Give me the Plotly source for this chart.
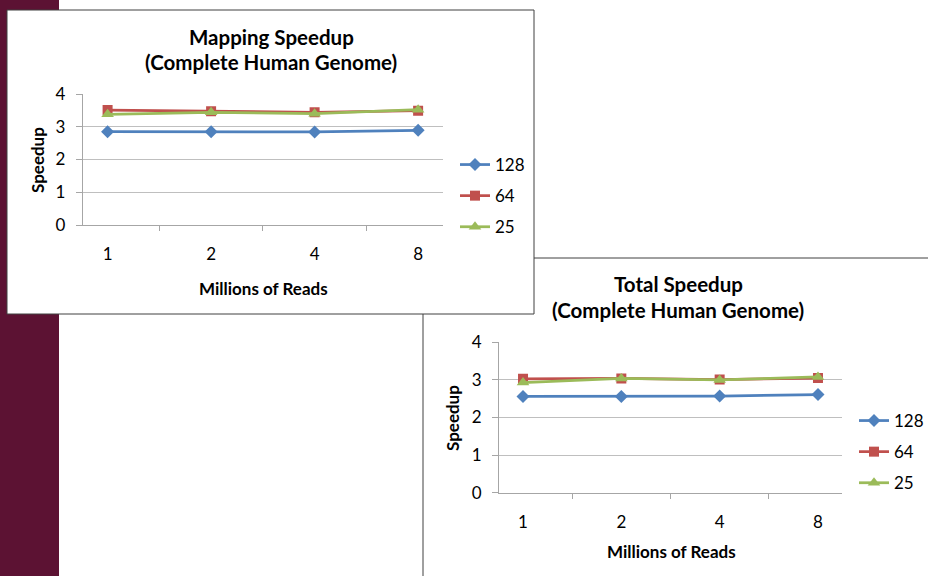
import plotly.graph_objects as go

W, H = 928, 576

reads = ["1", "2", "4", "8"]
series_names = ["128", "64", "25"]
mapping_128 = [2.85, 2.85, 2.84, 2.89]
mapping_64 = [3.51, 3.47, 3.44, 3.49]
mapping_25 = [3.38, 3.44, 3.40, 3.52]
total_128 = [2.56, 2.56, 2.57, 2.61]
total_64 = [3.03, 3.04, 3.01, 3.05]
total_25 = [2.93, 3.04, 3.00, 3.08]

colors = ["#4F81BD", "#C0504D", "#9BBB59"]
symbols = ["diamond", "square", "triangle-up"]
msizes = [10, 10, 11]

FONT = "Lato"

def px(x):
    return x / W

def py(y):
    return 1 - y / H

fig = go.Figure()

for i, (name, vals) in enumerate(zip(series_names, [mapping_128, mapping_64, mapping_25])):
    fig.add_trace(go.Scatter(
        x=reads, y=vals, name=name, mode="lines+markers",
        line=dict(color=colors[i], width=2.75),
        marker=dict(symbol=symbols[i], size=msizes[i], color=colors[i]),
        xaxis="x", yaxis="y", legend="legend", legendgroup="a" + name,
    ))
for i, (name, vals) in enumerate(zip(series_names, [total_128, total_64, total_25])):
    fig.add_trace(go.Scatter(
        x=reads, y=vals, name=name, mode="lines+markers",
        line=dict(color=colors[i], width=2.75),
        marker=dict(symbol=symbols[i], size=msizes[i], color=colors[i]),
        xaxis="x2", yaxis="y2", legend="legend2", legendgroup="b" + name,
    ))

grid = "#bfbfbf"
axl = "#a6a6a6"
tickfont = dict(family=FONT, size=17, color="#000000")

def xax(domain, anchor):
    return dict(domain=domain, anchor=anchor, type="category", categoryorder="array",
                categoryarray=reads, showline=True, linecolor=axl, linewidth=1,
                ticks="outside", tickson="boundaries", ticklen=5, tickcolor=axl,
                showgrid=False, zeroline=False, tickfont=tickfont, ticklabelstandoff=14,
                fixedrange=True, automargin=False)

def yax(domain, anchor):
    return dict(domain=domain, anchor=anchor, range=[0, 4], dtick=1, showline=True,
                linecolor=axl, linewidth=1, ticks="outside", ticklen=6, tickcolor=axl,
                showgrid=True, gridcolor=grid, gridwidth=1, zeroline=False,
                tickfont=tickfont, ticklabelstandoff=7, fixedrange=True, automargin=False)

shapes = [
    # slide background strip
    dict(type="rect", xref="paper", yref="paper", x0=0, x1=px(59), y0=0, y1=1,
         fillcolor="#5c1233", line=dict(width=0), layer="below"),
    # bottom chart frame
    dict(type="rect", xref="paper", yref="paper", x0=px(423), x1=px(940), y0=py(590), y1=py(258),
         fillcolor="#ffffff", line=dict(color="#404040", width=1), layer="below"),
    # top chart frame
    dict(type="rect", xref="paper", yref="paper", x0=px(7), x1=px(534), y0=py(314), y1=py(10),
         fillcolor="#ffffff", line=dict(color="#404040", width=1), layer="below"),
]

title_font = dict(family=FONT, size=20.5, color="#000000")
axtitle_font = dict(family=FONT, size=17, color="#000000")

annotations = [
    dict(text="<b>Mapping Speedup</b>", x=px(271), y=py(37), xref="paper", yref="paper",
         showarrow=False, font=title_font, xanchor="center", yanchor="middle"),
    dict(text="<b>(Complete Human Genome)</b>", x=px(271), y=py(62), xref="paper", yref="paper",
         showarrow=False, font=title_font, xanchor="center", yanchor="middle"),
    dict(text="<b>Speedup</b>", x=px(37), y=py(160), xref="paper", yref="paper", textangle=-90,
         showarrow=False, font=axtitle_font, xanchor="center", yanchor="middle"),
    dict(text="<b>Millions of Reads</b>", x=px(263), y=py(288), xref="paper", yref="paper",
         showarrow=False, font=axtitle_font, xanchor="center", yanchor="middle"),
    dict(text="<b>Total Speedup</b>", x=px(678), y=py(284), xref="paper", yref="paper",
         showarrow=False, font=title_font, xanchor="center", yanchor="middle"),
    dict(text="<b>(Complete Human Genome)</b>", x=px(678), y=py(310), xref="paper", yref="paper",
         showarrow=False, font=title_font, xanchor="center", yanchor="middle"),
    dict(text="<b>Speedup</b>", x=px(452), y=py(418), xref="paper", yref="paper", textangle=-90,
         showarrow=False, font=axtitle_font, xanchor="center", yanchor="middle"),
    dict(text="<b>Millions of Reads</b>", x=px(671), y=py(551), xref="paper", yref="paper",
         showarrow=False, font=axtitle_font, xanchor="center", yanchor="middle"),
]

legend_common = dict(bgcolor="rgba(0,0,0,0)", borderwidth=0, font=dict(family=FONT, size=17, color="#000"),
                     tracegroupgap=6, itemwidth=30, xanchor="left", yanchor="top")

fig.update_layout(
    width=W, height=H, autosize=False,
    margin=dict(l=0, r=0, t=0, b=0, pad=0, autoexpand=False),
    paper_bgcolor="#ffffff", plot_bgcolor="rgba(0,0,0,0)",
    xaxis=xax([px(82.7), px(443)], "y"),
    yaxis=yax([py(225), py(94)], "x"),
    xaxis2=xax([px(499), px(842)], "y2"),
    yaxis2=yax([py(492.7), py(342.3)], "x2"),
    shapes=shapes,
    annotations=annotations,
    legend=dict(x=px(455), y=py(147), **legend_common),
    legend2=dict(x=px(854), y=py(403), **legend_common),
    showlegend=True,
)

fig.write_html(
    "out.html",
    config={"displayModeBar": False, "responsive": False},
    post_script=(
        "document.body.style.margin='0';document.body.style.padding='0';"
        "document.documentElement.style.overflow='hidden';"
    ),
)
